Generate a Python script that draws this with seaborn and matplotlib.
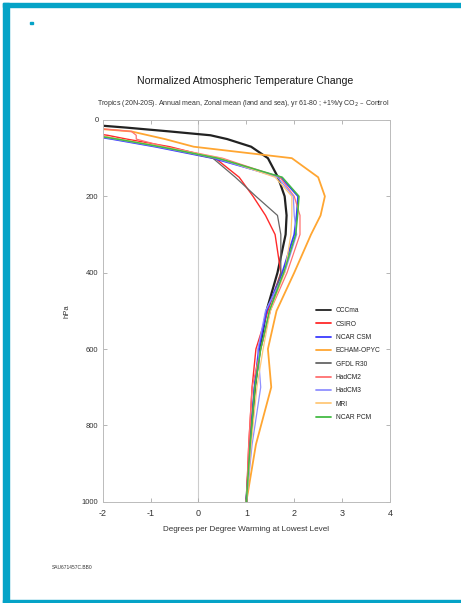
import matplotlib
matplotlib.use("Agg")
import matplotlib.pyplot as plt
import seaborn as sns
from matplotlib.patches import Rectangle

# pressure levels (hPa)
levels = [10, 20, 30, 40, 50, 70, 100, 150, 200, 250, 300, 400, 500, 600, 700, 850, 1000]

cccma     = [-2.5, -1.5, -0.6, 0.25, 0.6, 1.1, 1.45, 1.66, 1.8, 1.84, 1.82, 1.65, 1.42, 1.28, 1.18, 1.08, 1.0]
csiro     = [-3.8, -3.2, -2.5, -1.9, -1.5, -0.6, 0.35, 0.85, 1.14, 1.4, 1.6, 1.72, 1.45, 1.2, 1.12, 1.05, 1.0]
ncar_csm  = [-4.0, -3.6, -3.0, -2.3, -1.8, -0.9, 0.3, 1.72, 2.08, 2.05, 2.0, 1.75, 1.42, 1.26, 1.17, 1.08, 1.0]
echam     = [-3.0, -2.4, -1.4, -1.05, -0.7, -0.1, 1.95, 2.5, 2.64, 2.55, 2.35, 2.0, 1.63, 1.45, 1.52, 1.2, 1.0]
gfdl      = [-3.7, -3.3, -2.7, -2.1, -1.7, -0.8, 0.3, 0.77, 1.2, 1.65, 1.72, 1.72, 1.5, 1.3, 1.18, 1.08, 1.0]
hadcm2    = [-3.0, -2.3, -1.4, -1.3, -1.3, -0.7, 0.5, 1.7, 2.0, 2.12, 2.12, 1.85, 1.5, 1.3, 1.12, 1.05, 1.0]
hadcm3    = [-3.9, -3.5, -2.9, -2.25, -1.75, -0.85, 0.35, 1.65, 1.98, 2.0, 2.05, 1.8, 1.4, 1.24, 1.3, 1.12, 1.0]
mri       = [-3.6, -3.2, -2.6, -2.1, -1.65, -0.75, 0.45, 1.6, 1.95, 1.95, 1.93, 1.8, 1.5, 1.35, 1.22, 1.1, 1.0]
ncar_pcm  = [-3.8, -3.4, -2.8, -2.2, -1.7, -0.8, 0.4, 1.75, 2.1, 2.07, 2.03, 1.78, 1.48, 1.3, 1.18, 1.08, 1.0]

names = ["CCCma", "CSIRO", "NCAR CSM", "ECHAM-OPYC", "GFDL R30", "HadCM2", "HadCM3", "MRI", "NCAR PCM"]
series = [cccma, csiro, ncar_csm, echam, gfdl, hadcm2, hadcm3, mri, ncar_pcm]
colors = ["#222222", "#ff2a2a", "#3a3aff", "#ffa632", "#666666", "#ff7070", "#9090ff", "#ffc878", "#44bb44"]
widths = [1.6, 1.0, 1.3, 1.3, 0.9, 0.9, 0.9, 0.9, 1.1]

xticks = [-2, -1, 0, 1, 2, 3, 4]
yticks = [0, 200, 400, 600, 800, 1000]

sns.set_theme(style="white")
plt.rcParams['font.family'] = ['Liberation Sans', 'DejaVu Sans']

fig = plt.figure(figsize=(4.61, 6.03), dpi=100)
ax = fig.add_axes([0.2228, 0.168, 0.6232, 0.633])

ax.axvline(0, color="#cccccc", lw=0.8, zorder=0)
for name, vals, c, w in zip(names, series, colors, widths):
    sns.lineplot(x=vals, y=levels, sort=False, estimator=None, color=c, lw=w,
                 label=name, ax=ax)

ax.set_xlim(-2, 4)
ax.set_ylim(1000, 0)
ax.set_xticks(xticks)
ax.set_yticks(yticks)
ax.set_xticklabels([str(t) for t in xticks], fontsize=6.5, color="#333333")
ax.set_yticklabels([str(t) for t in yticks], fontsize=5.5, color="#333333")
ax.tick_params(direction="in", length=3, width=0.6, color="#aaaaaa",
               top=True, right=True, bottom=True, left=True, pad=3)
ax.tick_params(axis="x", pad=5)
for s in ax.spines.values():
    s.set_color("#bbbbbb")
    s.set_linewidth(0.7)

ax.set_xlabel("Degrees per Degree Warming at Lowest Level", fontsize=5.9, color="#333333", labelpad=6)
ax.set_ylabel("hPa", fontsize=5.5, color="#333333", labelpad=8)

leg = ax.legend(loc="center right", bbox_to_anchor=(0.985, 0.36), fontsize=4.8, frameon=False,
                handlelength=2.2, labelspacing=0.95, borderpad=0.3, handletextpad=0.7)
for line in leg.get_lines():
    line.set_linewidth(1.3)

fig.text(0.532, 0.866, "Normalized Atmospheric Temperature Change", ha="center", va="center",
         fontsize=7.6, color="#1a1a1a")
fig.text(0.527, 0.829, "Tropics (20N-20S). Annual mean, Zonal mean (land and sea), yr 61-80 ; +1%/y CO$_2$ \u2013 Control",
         ha="center", va="center", fontsize=5.0, color="#333333")
fig.text(0.113, 0.059, "SAU671457C.BB0", ha="left", va="center", fontsize=3.5, color="#333333")

blue = "#05a3c7"
fig.patches.append(Rectangle((3 / 461, 0), 5.5 / 461, 1 - 3 / 603, transform=fig.transFigure, color=blue, zorder=5))
fig.patches.append(Rectangle((3 / 461, 1 - 7.3 / 603), 1, 4.3 / 603, transform=fig.transFigure, color=blue, zorder=5))
fig.patches.append(Rectangle((3 / 461, 0), 1, 3.5 / 603, transform=fig.transFigure, color=blue, zorder=5))
fig.patches.append(Rectangle((30 / 461, 1 - 24 / 603), 3 / 461, 2 / 603, transform=fig.transFigure, color=blue, zorder=5))

fig.savefig("out.png", dpi=100)
